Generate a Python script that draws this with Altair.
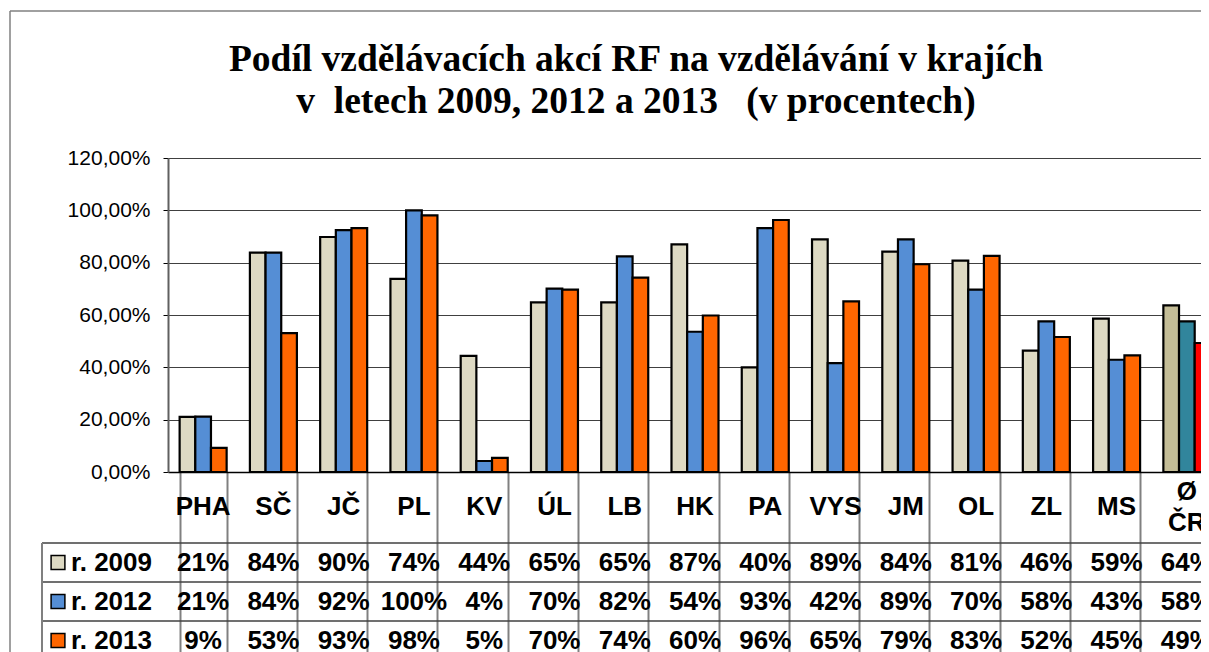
import altair as alt
import pandas as pd

categories = ["PHA", "SČ", "JČ", "PL", "KV", "ÚL", "LB", "HK", "PA", "VYS", "JM", "OL", "ZL", "MS", "Ø\nČR"]
years = ["r. 2009", "r. 2012", "r. 2013"]
v2009 = [21.1, 83.8, 89.8, 73.8, 44.4, 64.8, 64.8, 87.0, 40.0, 88.9, 84.2, 80.8, 46.4, 58.6, 63.7]
v2012 = [21.2, 83.8, 92.4, 100.0, 4.2, 70.1, 82.4, 53.6, 93.2, 41.6, 88.9, 69.7, 57.6, 42.9, 57.6]
v2013 = [9.2, 53.1, 93.2, 98.1, 5.4, 69.7, 74.3, 59.8, 96.3, 65.2, 79.4, 82.6, 51.6, 44.6, 49.3]
title_lines = ["Podíl vzdělávacích akcí RF na vzdělávání v krajích",
               "v\u00a0 letech 2009, 2012 a 2013 \u00a0 (v procentech)"]
y_ticks = [0, 20, 40, 60, 80, 100, 120]
colors_regions = ["#DDD9C3", "#558ED5", "#FF6600"]
colors_total = ["#C4BD97", "#31859C", "#FF0000"]

series = {years[0]: v2009, years[1]: v2012, years[2]: v2013}
rows = []
for y, vals in series.items():
    for c, v in zip(categories, vals):
        key = y + (" ČR" if c == categories[-1] else "")
        rows.append({"cat": c, "year": y, "value": v, "key": key, "label": f"{v:.0f}%"})
df = pd.DataFrame(rows)
keys = years + [y + " ČR" for y in years]
key_colors = colors_regions + colors_total

PW, PH = 1033, 314
FULLW = 1054

x_enc = alt.X("cat:N", sort=categories,
              scale=alt.Scale(domain=categories, range=[0, FULLW], paddingInner=0.331, paddingOuter=0.1655),
              axis=alt.Axis(title=None, labels=False, tickBand="extent", tickSize=200,
                            tickColor="#808080", tickWidth=2, domainColor="#000000", domainWidth=1.5,
                            grid=False))
y_enc = alt.Y("value:Q", scale=alt.Scale(domain=[0, 120]),
              axis=alt.Axis(title=None, values=y_ticks,
                            labelExpr="replace(format(datum.value, '.2f'), '.', ',') + '%'",
                            labelFont="Liberation Sans", labelFontSize=21, labelColor="#000000",
                            labelPadding=13, tickSize=5, tickColor="#000000", tickWidth=1,
                            domainColor="#606060", domainWidth=2,
                            gridColor="#404040", gridWidth=1))

bars = alt.Chart(df).mark_bar(stroke="black", strokeWidth=2.2).encode(
    x=x_enc,
    xOffset=alt.XOffset("year:N", sort=years, scale=alt.Scale(paddingInner=0, paddingOuter=0)),
    y=y_enc,
    color=alt.Color("key:N", scale=alt.Scale(domain=keys, range=key_colors), legend=None),
)

one = pd.DataFrame({"k": [0]})

layers = [bars]

# title
title_y = [-87, -45]
for t, ty in zip(title_lines, title_y):
    layers.append(alt.Chart(one).mark_text(font="Liberation Serif", fontSize=37.5, fontWeight="bold",
                                            align="center", baseline="alphabetic", color="black", text=t)
                  .encode(x=alt.value(468), y=alt.value(ty)))

# header row of table
hdr1 = pd.DataFrame({"cat": categories[:-1]})
hdr2 = pd.DataFrame({"cat": categories[-1:]})
layers.append(alt.Chart(hdr1).mark_text(font="Liberation Sans", fontSize=26, fontWeight="bold",
                                        baseline="middle", color="black")
              .encode(x=x_enc, y=alt.value(349), text="cat:N"))
layers.append(alt.Chart(hdr2).mark_text(font="Liberation Sans", fontSize=26, fontWeight="bold",
                                        baseline="middle", lineBreak="\n", lineHeight=31, color="black")
              .encode(x=x_enc, y=alt.value(333.5), text="cat:N"))

# table rows
row_base = [413, 452, 491]
row_center = [404.5, 443.5, 482.5]
for i, y in enumerate(years):
    layers.append(alt.Chart(df).transform_filter(alt.datum.year == y)
                  .mark_text(font="Liberation Sans", fontSize=26, fontWeight="bold",
                             baseline="alphabetic", color="black")
                  .encode(x=x_enc, y=alt.value(row_base[i]), text="label:N"))
    layers.append(alt.Chart(one).mark_square(size=190, filled=True, color=colors_regions[i],
                                             stroke="black", strokeWidth=1.5, opacity=1)
                  .encode(x=alt.value(-110), y=alt.value(row_center[i])))
    layers.append(alt.Chart(one).mark_text(font="Liberation Sans", fontSize=26, fontWeight="bold",
                                           align="left", baseline="alphabetic", color="black", text=y)
                  .encode(x=alt.value(-97), y=alt.value(row_base[i])))

# table grid lines
for hy in [385, 424, 463]:
    layers.append(alt.Chart(one).mark_rule(color="#404040", strokeWidth=1.5)
                  .encode(x=alt.value(-126), x2=alt.value(PW), y=alt.value(hy)))
layers.append(alt.Chart(one).mark_rule(color="#808080", strokeWidth=2)
              .encode(x=alt.value(-126), y=alt.value(385), y2=alt.value(520)))

# outer chart border
layers.append(alt.Chart(one).mark_rule(color="#808080", strokeWidth=1.5)
              .encode(x=alt.value(-158), y=alt.value(-147), y2=alt.value(520)))
layers.append(alt.Chart(one).mark_rule(color="#808080", strokeWidth=1.5)
              .encode(x=alt.value(-158), x2=alt.value(PW), y=alt.value(-147)))

chart = alt.layer(*layers).properties(
    width=PW, height=PH,
    autosize=alt.AutoSizeParams(type="none"),
    padding={"left": 160, "top": 150, "right": 0, "bottom": 180},
    background="white",
).configure_view(strokeWidth=0)

chart.save("out.html", embed_options={"renderer": "svg", "actions": False})
